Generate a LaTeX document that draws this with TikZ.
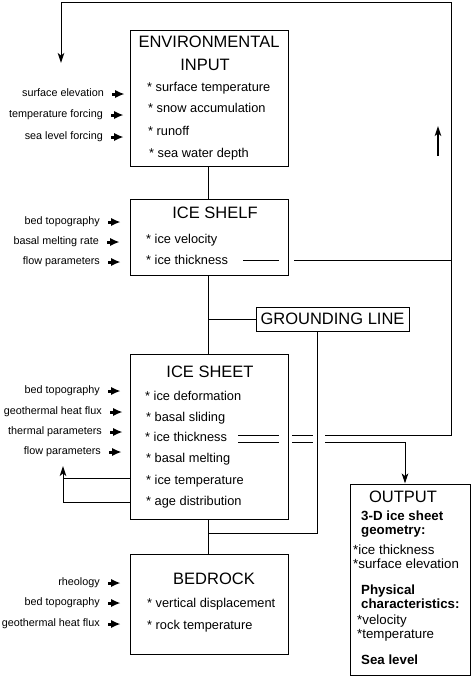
\documentclass[tikz,border=0pt]{standalone}
\usepackage{fontspec}
\setmainfont{Liberation Sans}
\usetikzlibrary{arrows.meta}
\begin{document}
\begin{tikzpicture}[x=1pt,y=-1pt,
  box/.style={draw, line width=1pt, minimum width=158pt, inner sep=0pt},
  ttl/.style={font=\fontsize{16.5}{18}\selectfont, anchor=mid, inner sep=0pt},
  item/.style={font=\fontsize{12.8}{14}\selectfont, anchor=mid west, inner sep=0pt},
  oitem/.style={font=\fontsize{13.3}{14}\selectfont, anchor=mid west, inner sep=0pt},
  obold/.style={font=\fontsize{13.3}{14}\selectfont\bfseries, anchor=mid west, inner sep=0pt},
  lab/.style={font=\fontsize{10.8}{12}\selectfont, anchor=mid east, inner sep=0pt},
  inarrow/.style={line width=3pt, -{Latex[length=9pt,width=8pt,line width=0pt]}},
  conn/.style={line width=0.9pt},
  fb/.style={line width=1pt, -{Stealth[length=10pt,width=6.5pt,inset=2.5pt]}}]
\useasboundingbox (0,0) rectangle (472,678);

% boxes
\node[box, minimum height=136pt] (env) at (209,98) {};
\node[box, minimum height=76pt] (shelf) at (209,237) {};
\node[box, minimum height=165pt] (sheet) at (209,436.5) {};
\node[box, minimum height=100pt] (bed) at (209,604) {};
\node[box, minimum width=153pt, minimum height=24pt, font=\fontsize{16.5}{18}\selectfont] (gl) at (332.5,319) {GROUNDING LINE};
\node[box, minimum width=120pt, minimum height=191pt] (out) at (410,579.5) {};

% environmental input
\node[ttl] (envT1) at (209,45) {ENVIRONMENTAL};
\node[ttl] (envT2) at (205,68) {INPUT};
\node[item] (envI1) at (147,89) {* surface temperature};
\node[item] (envI2) at (148,110) {* snow accumulation};
\node[item] (envI3) at (148,133) {* runoff};
\node[item] (envI4) at (149,155) {* sea water depth};
\node[lab] (envL1) at (104,94) {surface elevation};
\node[lab] (envL2) at (103,115) {temperature forcing};
\node[lab] (envL3) at (103,137) {sea level forcing};
\foreach \n in {envL1,envL2,envL3} \draw[inarrow] ([xshift=8pt]\n.mid east) -- ++(12,0);

% ice shelf
\node[ttl] (shelfT) at (215,216) {ICE SHELF};
\node[item] (shelfI1) at (146,241) {* ice velocity};
\node[item] (shelfI2) at (146,262) {* ice thickness};
\node[lab] (shelfL1) at (100,222) {bed topography};
\node[lab] (shelfL2) at (99,242) {basal melting rate};
\node[lab] (shelfL3) at (100,262) {flow parameters};
\foreach \n in {shelfL1,shelfL2,shelfL3} \draw[inarrow] ([xshift=8pt]\n.mid east) -- ++(12,0);

% ice sheet
\node[ttl] (sheetT) at (210,375) {ICE SHEET};
\node[item] (sheetI1) at (145,398) {* ice deformation};
\node[item] (sheetI2) at (146,419) {* basal sliding};
\node[item] (sheetI3) at (145,439) {* ice thickness};
\node[item] (sheetI4) at (146,460) {* basal melting};
\node[item] (sheetI5) at (146,482) {* ice temperature};
\node[item] (sheetI6) at (146,503) {* age distribution};
\node[lab] (sheetL1) at (100,391) {bed topography};
\node[lab] (sheetL2) at (102,412) {geothermal heat flux};
\node[lab] (sheetL3) at (102,432) {thermal parameters};
\node[lab] (sheetL4) at (101,452) {flow parameters};
\foreach \n in {sheetL1,sheetL2,sheetL3,sheetL4} \draw[inarrow] ([xshift=8pt]\n.mid east) -- ++(12,0);

% bedrock
\node[ttl] (bedT) at (214,582) {BEDROCK};
\node[item] (bedI1) at (147,605) {* vertical displacement};
\node[item] (bedI2) at (147,627) {* rock temperature};
\node[lab] (bedL1) at (100,583) {rheology};
\node[lab] (bedL2) at (100,603) {bed topography};
\node[lab] (bedL3) at (100,624) {geothermal heat flux};
\foreach \n in {bedL1,bedL2,bedL3} \draw[inarrow] ([xshift=8pt]\n.mid east) -- ++(12,0);

% output
\node[ttl] (outT) at (403,500) {OUTPUT};
\node[obold] (outB1) at (361,518) {3-D ice sheet};
\node[obold] (outB2) at (361,532) {geometry:};
\node[oitem] (outI1) at (353,552) {*ice thickness};
\node[oitem] (outI2) at (353,566) {*surface elevation};
\node[obold] (outB3) at (361,592) {Physical};
\node[obold] (outB4) at (361,606) {characteristics:};
\node[oitem] (outI3) at (357,622) {*velocity};
\node[oitem] (outI4) at (357,636) {*temperature};
\node[obold] (outB5) at (361,662) {Sea level};

% coordinates
\coordinate (tl) at (61,2);
\coordinate (tr) at (451,2);
\coordinate (uparrowA) at (438,156);
\coordinate (uparrowB) at (438,126);

% vertical trunk
\draw[conn] (env.south -| 208,0) -- (shelf.north -| 208,0);
\draw[conn] (shelf.south -| 208,0) -- (sheet.north -| 208,0);
\draw[conn] (sheet.south -| 208,0) -- (bed.north -| 208,0);
\draw[conn] (gl.west -| 208,0) -- (gl.west);
\draw[conn] (gl.south -| 317,0) -- (317,533) -- (208,533);

% ice shelf thickness line
\draw[conn] (243,260) -- (279,260);
\draw[conn] (294,260) -- (451,260);

% ice sheet thickness double lines
\draw[conn] (238,435) -- (279,435);
\draw[conn] (238,442) -- (279,442);
\draw[conn] (292,435) -- (313,435);
\draw[conn] (292,442) -- (313,442);
\draw[fb] (325,435) -- (451,435) -- (tr) -- (tl) -- (61,63);
\draw[fb] (325,442) -- (405,442) -- (out.north -| 405,0);

% up arrow on the right
\draw[fb, line width=1.4pt] (uparrowA) -- (uparrowB);

% ice sheet feedback
\draw[conn] (sheet.west |- 0,478) -- (63,478);
\draw[fb] (sheet.west |- 0,502) -- (63,502) -- (63,466);
\end{tikzpicture}
\end{document}
